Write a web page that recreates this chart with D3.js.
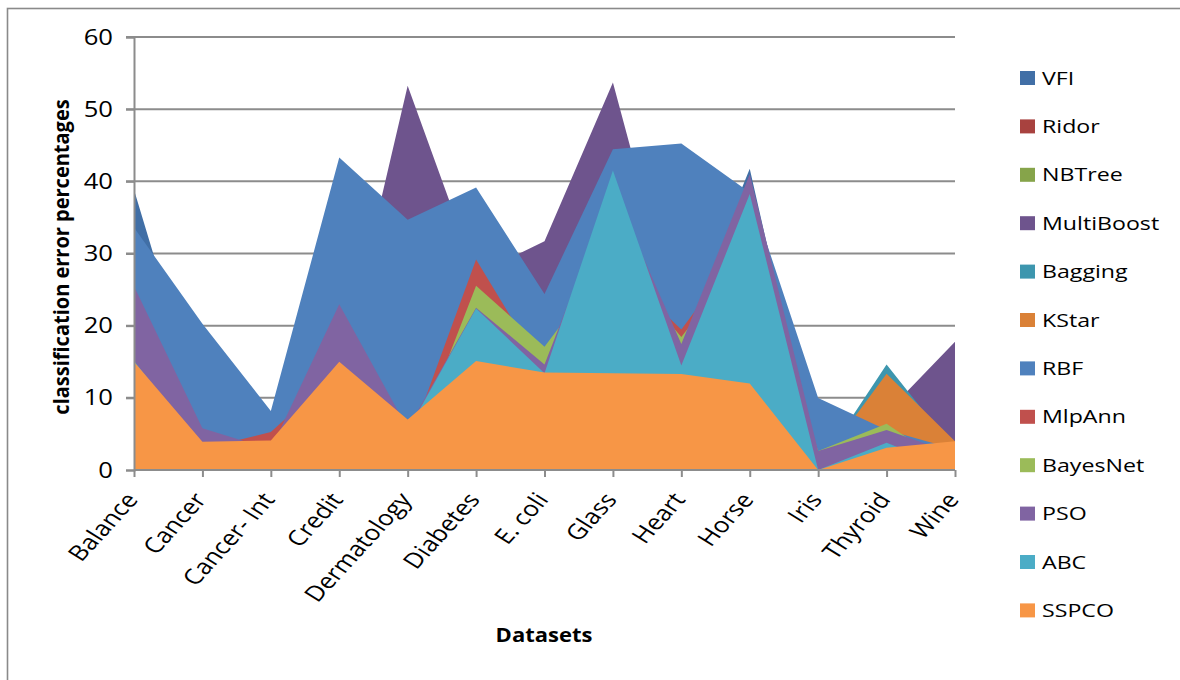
<!DOCTYPE html>
<html>
<head>
<meta charset="utf-8">
<script src="https://cdn.jsdelivr.net/npm/d3@7"></script>
<style>
html,body{margin:0;padding:0;background:#fff;}
svg{display:block;}
text{font-family:"Open Sans","Liberation Sans",sans-serif;fill:#000;}
</style>
</head>
<body>
<svg id="chart" width="1180" height="680"></svg>
<script>
// ---- data ----
const categories = ["Balance","Cancer","Cancer- Int","Credit","Dermatology","Diabetes","E. coli","Glass","Heart","Horse","Iris","Thyroid","Wine"];
const yTicks = [0,10,20,30,40,50,60];
const seriesNames = ["VFI","Ridor","NBTree","MultiBoost","Bagging","KStar","RBF","MlpAnn","BayesNet","PSO","ABC","SSPCO"];
const VFI        = [38.85, 7.34, 5.71, 16.47, 7.60, 34.37, 17.07, 41.11, 18.42, 41.75, 0.00, 11.59, 5.77];
const Ridor      = [20.63, 6.36, 5.48, 12.65, 7.92, 29.31, 18.29, 31.66, 22.89, 31.86, 0.52, 8.53, 5.10];
const NBTree     = [19.74, 7.69, 5.71, 16.18, 1.08, 25.52, 20.73, 24.07, 22.36, 31.86, 2.63, 11.42, 2.22];
const MultiBoost = [24.20, 5.59, 5.14, 12.71, 53.26, 27.08, 31.70, 53.70, 18.42, 38.46, 2.63, 7.93, 17.77];
const Bagging    = [14.77, 4.47, 3.93, 10.68, 3.47, 26.87, 15.36, 25.36, 20.25, 30.32, 0.26, 14.62, 2.66];
const KStar      = [10.25, 2.44, 4.57, 19.18, 4.66, 34.05, 18.29, 17.58, 26.70, 35.71, 0.52, 13.32, 3.99];
const RBF        = [33.61, 20.27, 8.17, 43.29, 34.66, 39.16, 24.38, 44.44, 45.25, 38.46, 9.99, 5.55, 2.88];
const MlpAnn     = [9.29, 2.93, 5.25, 13.81, 3.26, 29.16, 13.53, 28.51, 19.46, 32.19, 0.00, 1.85, 1.33];
const BayesNet   = [19.74, 4.19, 3.42, 12.13, 1.08, 25.52, 17.07, 29.62, 18.42, 30.76, 2.63, 6.41, 0.00];
const PSO        = [25.47, 5.80, 2.87, 22.96, 5.76, 22.50, 14.63, 39.05, 17.46, 40.98, 2.63, 5.55, 2.22];
const ABC        = [15.13, 2.81, 0.00, 13.37, 5.43, 22.39, 13.41, 41.50, 14.47, 38.26, 0.00, 3.77, 0.00];
const SSPCO      = [15.0, 3.9, 4.1, 15.0, 7.0, 15.1, 13.5, 13.4, 13.3, 12.0, 0.0, 3.1, 4.0];
const seriesValues = [VFI, Ridor, NBTree, MultiBoost, Bagging, KStar, RBF, MlpAnn, BayesNet, PSO, ABC, SSPCO];
const seriesColors = ["#416FA6","#A8423F","#86A44A","#6E548D","#3D96AE","#DA8137","#4F81BD","#C0504D","#9BBB59","#8064A2","#4BACC6","#F79646"];

// ---- chart ----
const svg = d3.select("#chart");
const L = 134, R = 955, T = 37, B = 470;
const SX = 1.22; // horizontal stretch of text seen in the reference
const x = d3.scalePoint().domain(categories).range([L, R]).padding(0);
const y = d3.scaleLinear().domain([0, 60]).range([B, T]);

// outer frame
svg.append("rect").attr("x", 7.5).attr("y", 8.5).attr("width", 1200).attr("height", 700)
  .attr("fill", "none").attr("stroke", "#8a8a8a").attr("stroke-width", 1.6);

// gridlines
svg.append("g").selectAll("line").data(yTicks.filter(d => d > 0)).join("line")
  .attr("x1", L - 8).attr("x2", R).attr("y1", d => y(d)).attr("y2", d => y(d))
  .attr("stroke", "#8c8c8c").attr("stroke-width", 2);

// areas (first series at back, last at front)
const area = d3.area().x((d, i) => x(categories[i])).y0(y(0)).y1(d => y(d));
svg.append("g").selectAll("path").data(seriesValues).join("path")
  .attr("d", d => area(d))
  .attr("fill", (d, i) => seriesColors[i]);

// y axis
const yAxis = d3.axisLeft(y).tickValues(yTicks).tickSize(8).tickFormat("");
const gy = svg.append("g").attr("transform", `translate(${L},0)`).call(yAxis);
gy.select(".domain").attr("stroke", "#8c8c8c").attr("stroke-width", 2);
gy.selectAll(".tick line").attr("stroke", "#8c8c8c").attr("stroke-width", 2);
svg.append("g").selectAll("text").data(yTicks).join("text")
  .attr("transform", d => `translate(${L - 21},${y(d)}) scale(${SX},1)`)
  .attr("text-anchor", "end").attr("dy", "0.36em")
  .attr("font-size", 21).text(d => d);

// x axis
const xAxis = d3.axisBottom(x).tickSize(7).tickFormat("");
const gx = svg.append("g").attr("transform", `translate(0,${B})`).call(xAxis);
gx.select(".domain").attr("stroke", "#8c8c8c").attr("stroke-width", 2).attr("d", `M${L},0H${R}`);
gx.selectAll(".tick line").attr("stroke", "#8c8c8c").attr("stroke-width", 2);

// x labels rotated (visual ~45° after horizontal stretch)
svg.append("g").selectAll("text").data(categories).join("text")
  .attr("transform", d => `translate(${x(d) + 5},${B + 30}) scale(${SX},1) rotate(-53)`)
  .attr("text-anchor", "end")
  .attr("font-size", 21.5)
  .text(d => d);

// axis titles
svg.append("text").attr("transform", `translate(544,642) scale(1.1,1)`).attr("text-anchor", "middle")
  .attr("font-size", 20).attr("font-weight", "bold").text("Datasets");
svg.append("text").attr("transform", "translate(69,257) scale(1.1,1) rotate(-90)").attr("text-anchor", "middle")
  .attr("font-size", 20).attr("font-weight", "bold").text("classification error percentages");

// legend
const lg = svg.append("g");
const items = lg.selectAll("g").data(seriesNames).join("g")
  .attr("transform", (d, i) => `translate(1020,${78 + i * 48.4})`);
items.append("rect").attr("x", 0).attr("y", -7).attr("width", 15).attr("height", 14)
  .attr("fill", (d, i) => seriesColors[i]);
items.append("text").attr("transform", `translate(22,0) scale(${SX},1)`).attr("dy", "0.35em")
  .attr("font-size", 19).text(d => d);
</script>
</body>
</html>
